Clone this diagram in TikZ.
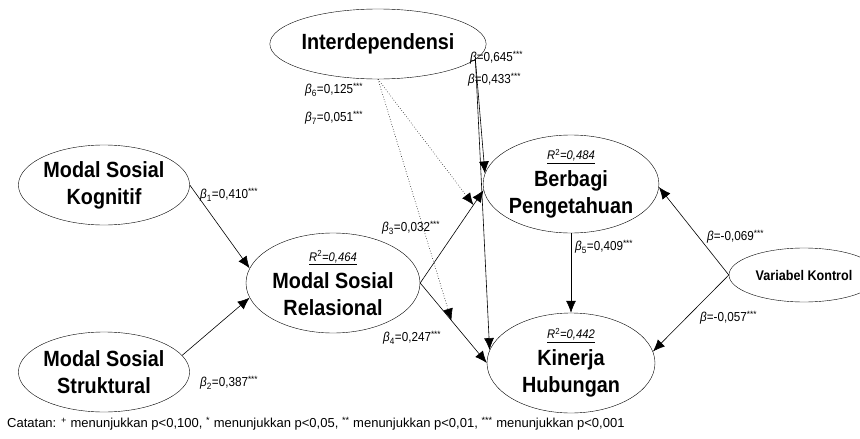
\documentclass[tikz,border=0pt]{standalone}
\usepackage{fontspec}
\setmainfont{Liberation Sans}[FakeStretch=0.9]
\newfontfamily\notefont{Liberation Sans}
\usetikzlibrary{shapes.geometric,arrows.meta}

\newcommand{\coefb}[2]{\textit{β}\textsubscript{#1}=#2\textsuperscript{***}}
\newcommand{\rsq}[1]{{\fontsize{12.5}{14}\selectfont\mdseries\underline{\textit{R}\textsuperscript{2}\textit{=#1}}}}

\begin{document}
\begin{tikzpicture}[x=1pt,y=-1pt,
    construct/.style={draw,ellipse,inner sep=0pt,align=center,font=\bfseries\fontsize{22}{27}\selectfont},
    link/.style={-{Latex[length=12pt,width=10pt]},line width=0.6pt},
    modlink/.style={-{Latex[length=12pt,width=10pt]},dotted,line width=0.6pt},
    coef/.style={anchor=west,inner sep=0pt,font=\fontsize{13}{15}\selectfont}]
  \useasboundingbox (0,0) rectangle (860,439);
  % konstruk
  \node[construct,minimum width=170pt,minimum height=70pt] (interdep) at (378,44) {Interdependensi};
  \node[construct,minimum width=168pt,minimum height=80pt] (kognitif) at (104,185) {Modal Sosial\\Kognitif};
  \node[construct,minimum width=168pt,minimum height=80pt] (struktural) at (104,372) {Modal Sosial\\Struktural};
  \node[construct,minimum width=174pt,minimum height=100pt] (relasional) at (333,283) {\rsq{0,464}\\Modal Sosial\\Relasional};
  \node[construct,minimum width=168pt,minimum height=98pt] (berbagi) at (571,184) {\rsq{0,484}\\Berbagi\\Pengetahuan};
  \node[construct,minimum width=168pt,minimum height=100pt] (kinerja) at (571,363) {\rsq{0,442}\\Kinerja\\Hubungan};
  \node[construct,minimum width=150pt,minimum height=54pt,font=\bfseries\fontsize{14}{17}\selectfont] (kontrol) at (804,275) {Variabel Kontrol};
  % jalur
  \draw[link] (kognitif.east) -- (relasional.170);
  \draw[link] (struktural.12) -- (relasional.190);
  \draw[link] (relasional.east) -- coordinate[pos=0.84] (m3) (berbagi.184);
  \draw[link] (relasional.east) -- coordinate[pos=0.47] (m4) (kinerja.west);
  \draw[link] (interdep.-9) -- (berbagi.173);
  \draw[link] (interdep.-9) -- (kinerja.171);
  \draw[link] (berbagi.south) -- (kinerja.north);
  \draw[link] (kontrol.west) -- (berbagi.-2);
  \draw[link] (kontrol.west) -- (kinerja.8);
  \draw[modlink] (interdep.south) -- (m3);
  \draw[modlink] (interdep.south) -- (m4);
  % koefisien
  \node[coef] (b645) at (470,58) {\textit{β}=0,645\textsuperscript{***}};
  \node[coef] (b433) at (468,80) {\textit{β}=0,433\textsuperscript{***}};
  \node[coef] (b6) at (305,90) {\coefb{6}{0,125}};
  \node[coef] (b7) at (305,118) {\coefb{7}{0,051}};
  \node[coef] (b1) at (200,195) {\coefb{1}{0,410}};
  \node[coef] (b2) at (200,383) {\coefb{2}{0,387}};
  \node[coef] (b3) at (382,228) {\coefb{3}{0,032}};
  \node[coef] (b4) at (383,338) {\coefb{4}{0,247}};
  \node[coef] (b5) at (575,247) {\coefb{5}{0,409}};
  \node[coef] (b069) at (707,237) {\textit{β}=-0,069\textsuperscript{***}};
  \node[coef] (b057) at (700,318) {\textit{β}=-0,057\textsuperscript{***}};
  \node[anchor=west,inner sep=0pt,font=\notefont\fontsize{13}{15}\selectfont] (catatan) at (7,424) {Catatan: \textsuperscript{+} menunjukkan p<0,100, \textsuperscript{*} menunjukkan p<0,05, \textsuperscript{**} menunjukkan p<0,01, \textsuperscript{***} menunjukkan p<0,001};
\end{tikzpicture}
\end{document}
